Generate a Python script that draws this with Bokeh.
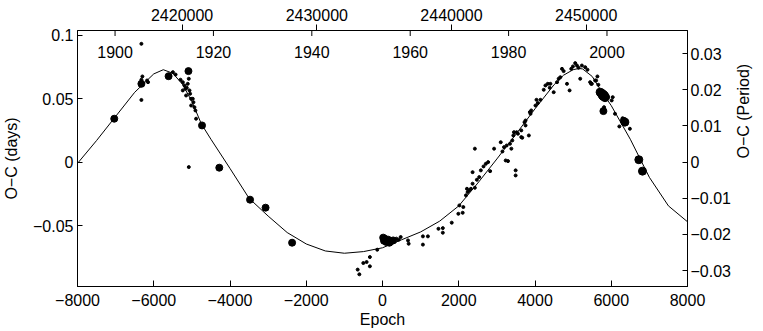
import numpy as np
from bokeh.plotting import figure
from bokeh.models import (Range1d, LinearAxis, FixedTicker, CustomJSTickFormatter,
                          ColumnDataSource)
from bokeh.core.properties import value
from bokeh.embed import file_html
from bokeh.resources import INLINE

# ---------------- data ----------------
# ephemeris used for the secondary axes
T0 = 2434878.0
PERIOD = 2.8307
PERIOD_RIGHT = 2.85

x_ticks = [-8000, -6000, -4000, -2000, 0, 2000, 4000, 6000, 8000]
y_ticks = [-0.05, 0.0, 0.05, 0.1]
yp_ticks = [-0.03, -0.02, -0.01, 0.0, 0.01, 0.02, 0.03]
jd_ticks = [2420000, 2430000, 2440000, 2450000]
years = [1900, 1920, 1940, 1960, 1980, 2000]

# fitted light-time curve
curve_E = [-8000, -7500, -7000, -6500, -6000, -5750, -5500, -5250, -5000, -4750,
           -4500, -4000, -3500, -3000, -2500, -2000, -1500, -1000, -500, 0, 500,
           1000, 1500, 2000, 2500, 3000, 3500, 4000, 4500, 4750, 5000, 5150, 5250,
           5500, 5750, 6000, 6500, 7000, 7500, 8000]
curve_oc = [-0.001, 0.017, 0.036, 0.055, 0.0695, 0.0728, 0.0700, 0.0615, 0.0478, 0.0300,
            0.0180, -0.0050, -0.0285, -0.0425, -0.0555, -0.0645, -0.0700, -0.0718, -0.0705,
            -0.0675, -0.0612, -0.0550, -0.0465, -0.0345, -0.0165, 0.0025, 0.0220, 0.0420,
            0.0610, 0.0685, 0.0728, 0.0738, 0.0734, 0.0675, 0.0555, 0.0445, 0.0180, -0.0120,
            -0.0345, -0.047]

# large points (photographic / CCD minima)
big_E = [-7036, -6324, -5611, -5090, -4734, -4281, -3474, -3067, -2371,
         18, 40, 60, 104, 148, 180, 216, 279,
         5707, 5750, 5794, 5837, 5794, 6358, 6330, 6723, 6819]
big_oc = [0.0342, 0.0617, 0.0677, 0.0717, 0.0289, -0.0044, -0.0296, -0.0359, -0.0635,
          -0.0595, -0.0620, -0.0603, -0.0630, -0.0611, -0.0635, -0.0624, -0.0617,
          0.0551, 0.0540, 0.0525, 0.0512, 0.0402, 0.0315, 0.0325, 0.0019, -0.0071]
big_size = [7, 7, 7, 7, 7, 7, 7, 7, 7,
            7, 7, 7, 7, 7, 7, 7, 7,
            8, 9, 10, 9, 7, 8, 7, 8, 8]

# small points (visual minima)
small_E = [-6324, -6298, -6324, -6176, -6150, -6350, -6324,
           -5498, -5428, -5298, -5238, -5194, -5168, -5238, -5134, -5108, -5081, -5063,
           -5046, -5152, -5020, -4977, -4959, -5020, -4933, -4907, -4890, -5081,
           365, 425, 477, 669, 686, -138, -331, -417, -503, -331, -651, -607,
           1060, 1191, 1060, 1468, 1582, 1582, 1816, 1990, 2103, 2016, 2120, 2189, 2233,
           2276, 2319, 2215, 2363, 2423, 2363, 2475, 2537, 2580, 2650, 2710, 2771, 2823,
           2423, 2927, 3101, 3146, 3188, 3257, 3344, 3231, 3292, 3380, 3492, 3492, 3432,
           3518, 3640, 3640, 3752, 3752, 3839, 3865, 3405, 3449, 3553, 3666, 3726, 3883,
           3901, 4013, 4039, 4143, 4073, 4229, 4274, 4334, 4404, 4386, 4490, 4578, 4621,
           4664, 4708, 4751, 4839, 4907, 4951, 4995, 5055, 5100, 5142, 5186, 5230, 5316,
           5376, 5446, 5491, 5637, 5603, 5662, 5577, 5472, 6038, 6012, 5811, 6098, 6298,
           6212, 6489]
small_oc = [0.0932, 0.0675, 0.0649, 0.0643, 0.0630, 0.0604, 0.0490,
            0.0709, 0.0690, 0.0649, 0.0630, 0.0604, 0.0578, 0.0565, 0.0586, 0.0617, 0.0657, 0.0565,
            0.0539, 0.0525, 0.0499, 0.0499, 0.0472, 0.0446, 0.0433, 0.0407, 0.0342, -0.0039,
            -0.0603, -0.0611, -0.0590, -0.0617, -0.0643, -0.0690, -0.0748, -0.0787, -0.0795, -0.0821, -0.0847, -0.0884,
            -0.0585, -0.0585, -0.0650, -0.0525, -0.0520, -0.0556, -0.0477, -0.0407, -0.0399, -0.0341, -0.0354, -0.0262, -0.0236,
            -0.0223, -0.0210, -0.0210, -0.0170, -0.0202, -0.0079, -0.0139, -0.0118, -0.0065, -0.0034, -0.0013, 0.0000, -0.0071,
            0.0106, 0.0106, 0.0157, 0.0084, 0.0118, 0.0131, 0.0145, 0.0013, 0.0008, 0.0106, -0.0065, -0.0105, 0.0210,
            0.0236, 0.0250, 0.0197, 0.0289, 0.0328, 0.0210, 0.0394, 0.0171, 0.0236, 0.0224, 0.0192, 0.0315, 0.0381,
            0.0407, 0.0446, 0.0491, 0.0491, 0.0465, 0.0570, 0.0604, 0.0617, 0.0617, 0.0586, 0.0551, 0.0630, 0.0657,
            0.0669, 0.0735, 0.0717, 0.0617, 0.0565, 0.0735, 0.0754, 0.0780, 0.0761, 0.0743, 0.0657, 0.0761, 0.0748,
            0.0728, 0.0630, 0.0617, 0.0675, 0.0643, 0.0609, 0.0643, 0.0617, 0.0512, 0.0486, 0.0433, 0.0381, 0.0346,
            0.0281, 0.0263]

# ---------------- figure ----------------
X0, X1 = -8000, 8000
Y0, Y1 = -0.098, 0.1037
FONT = "Liberation Sans"
FS = "16px"

p = figure(width=763, height=331, x_range=Range1d(X0, X1), y_range=Range1d(Y0, Y1),
           output_backend="svg", toolbar_location=None,
           min_border_left=74, min_border_right=75, min_border_top=30, min_border_bottom=45)
p.background_fill_color = "white"
p.border_fill_color = "white"
p.outline_line_color = "black"
p.xgrid.visible = False
p.ygrid.visible = False

fmt = CustomJSTickFormatter(code="return (tick < 0 ? '\u2212' : '') + Math.abs(tick).toString();")

def style_axis(ax, tin, tout):
    ax.major_tick_in = tin
    ax.major_tick_out = tout
    ax.minor_tick_line_color = None
    ax.axis_line_color = "black"
    ax.major_tick_line_color = "black"
    ax.major_label_text_font = FONT
    ax.major_label_text_font_size = FS
    ax.major_label_text_color = "black"
    ax.axis_label_text_font = FONT
    ax.axis_label_text_font_size = FS
    ax.axis_label_text_font_style = "normal"
    ax.axis_label_text_color = "black"

xa = p.xaxis[0]
xa.ticker = FixedTicker(ticks=x_ticks)
xa.formatter = fmt
xa.axis_label = "Epoch"
style_axis(xa, 6, 0)
xa.major_label_standoff = 7
xa.axis_label_standoff = 2

ya = p.yaxis[0]
ya.ticker = FixedTicker(ticks=y_ticks)
ya.formatter = fmt
ya.axis_label = "O\u2212C (days)"
style_axis(ya, 5, 0)
ya.major_label_standoff = 4
ya.axis_label_standoff = 10

p.extra_y_ranges = {"per": Range1d(Y0 / PERIOD_RIGHT, Y1 / PERIOD_RIGHT)}
ra = LinearAxis(y_range_name="per", ticker=FixedTicker(ticks=yp_ticks), formatter=fmt,
                axis_label="O\u2212C (Period)")
style_axis(ra, 5, 0)
ra.major_label_standoff = 3
ra.axis_label_standoff = 10
if "axis_label_orientation" in ra.properties():
    ra.axis_label_orientation = np.pi / 2
p.add_layout(ra, "right")

p.extra_x_ranges = {"jd": Range1d(T0 + PERIOD * X0, T0 + PERIOD * X1)}
ta = LinearAxis(x_range_name="jd", ticker=FixedTicker(ticks=jd_ticks), formatter=fmt)
style_axis(ta, 0, 6)
ta.major_label_standoff = 4
p.add_layout(ta, "above")

# year scale drawn inside the top of the frame
year_E = [((2415020.3 + (y - 1900) * 365.25) - T0) / PERIOD for y in years]
ysrc = ColumnDataSource(dict(x=year_E, y=[Y1] * len(years), t=[str(y) for y in years]))
p.scatter("x", "y", source=ysrc, marker="dash", angle=np.pi / 2, size=11,
          line_color="black", line_width=1)
p.text("x", "y", text="t", source=ysrc, text_align="center", text_baseline="alphabetic",
       y_offset=21, text_font=value(FONT), text_font_size=FS, text_color="black")

# curve and points
p.line(curve_E, curve_oc, line_color="black", line_width=1)
p.scatter(small_E, small_oc, size=3, color="black")
p.scatter(big_E, big_oc, size=big_size, color="black")

open("out.html", "w").write(file_html(p, INLINE))
